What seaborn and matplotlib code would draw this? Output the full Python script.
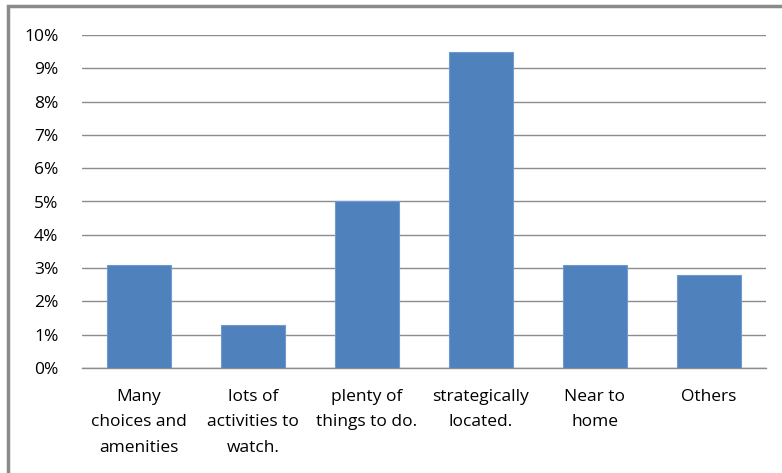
import matplotlib
matplotlib.use("Agg")
import matplotlib.pyplot as plt
import seaborn as sns
import pandas as pd
from matplotlib.patches import Rectangle
from matplotlib.ticker import FuncFormatter

categories = ["Many\nchoices and\namenities", "lots of\nactivities to\nwatch.",
              "plenty of\nthings to do.", "strategically\nlocated.", "Near to\nhome", "Others"]
values = [3.1, 1.3, 5.0, 9.5, 3.1, 2.8]
yticks = list(range(0, 11))

sns.set_style("white")
plt.rcParams['font.family'] = ['Open Sans', 'DejaVu Sans']

W, H = 782, 473
fig = plt.figure(figsize=(W / 100, H / 100), dpi=100)
ax = fig.add_axes([82 / W, 1 - 368 / H, (766 - 82) / W, (368 - 35) / H])

df = pd.DataFrame({"cat": categories, "val": values})
sns.barplot(data=df, x="cat", y="val", color="#4F81BD", saturation=1, width=0.57, ax=ax, zorder=3,
            edgecolor="#6f9ad0", linewidth=0.8)

ax.set_ylim(0, 10)
ax.set_yticks(yticks)
ax.yaxis.set_major_formatter(FuncFormatter(lambda v, p: f"{int(v)}%"))
ax.grid(axis="y", color="#8c8c8c", linewidth=1.0, zorder=0)
ax.set_axisbelow(True)
for s in ["left", "right", "top"]:
    ax.spines[s].set_visible(False)
ax.spines["bottom"].set_color("#8c8c8c")
ax.spines["bottom"].set_linewidth(1.0)
ax.tick_params(axis="both", length=0, labelsize=12.5, colors="#000000")
ax.tick_params(axis="y", pad=17)
ax.tick_params(axis="x", pad=15)
ax.set_xlabel("")
ax.set_ylabel("")
for lbl in ax.get_xticklabels():
    lbl.set_linespacing(1.8)

fig.patches.append(Rectangle((8 / W, -0.1), 1.2, 1 - 6 / H + 0.1, transform=fig.transFigure,
                             fill=False, edgecolor="#8a8a8a", linewidth=2.5))

fig.savefig("out.png", dpi=100)
